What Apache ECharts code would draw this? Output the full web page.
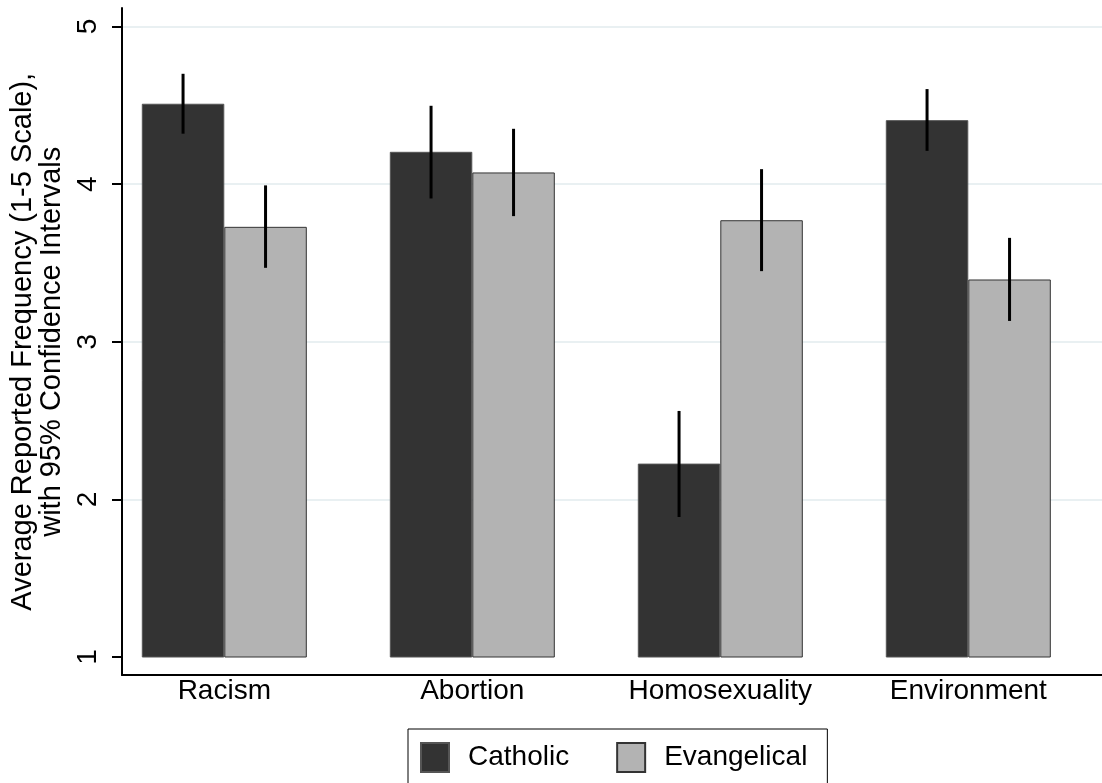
<!DOCTYPE html>
<html>
<head>
<meta charset="utf-8">
<script src="https://cdn.jsdelivr.net/npm/echarts@6/dist/echarts.min.js"></script>
<style>
html,body{margin:0;padding:0;background:#fff;}
#chart{width:1102px;height:783px;}
</style>
</head>
<body>
<div id="chart"></div>
<script>
const categories = ['Racism', 'Abortion', 'Homosexuality', 'Environment'];
const seriesNames = ['Catholic', 'Evangelical'];
const catholicMean = [4.51, 4.205, 2.227, 4.406];
const catholicLow = [4.32, 3.909, 1.888, 4.211];
const catholicHigh = [4.70, 4.497, 2.561, 4.603];
const evangelicalMean = [3.729, 4.074, 3.771, 3.395];
const evangelicalLow = [3.469, 3.797, 3.448, 3.132];
const evangelicalHigh = [3.992, 4.351, 4.095, 3.659];
const yTicks = [1, 2, 3, 4, 5];

const FONT = '"Liberation Sans", Arial, sans-serif';
const BAR_W = 82.5;

function ciData(lo, hi) {
  return categories.map((c, i) => [i, lo[i], hi[i]]);
}
function ciSeries(name, lo, hi, offset) {
  return {
    name: name,
    type: 'custom',
    xAxisIndex: 0, yAxisIndex: 0,
    z: 5,
    encode: { x: 0, y: [1, 2] },
    data: ciData(lo, hi),
    renderItem: function (params, api) {
      const a = api.coord([api.value(0), api.value(2)]);
      const b = api.coord([api.value(0), api.value(1)]);
      return {
        type: 'line',
        shape: { x1: a[0] + offset, y1: a[1], x2: b[0] + offset, y2: b[1] },
        style: { stroke: '#000', lineWidth: 3 }
      };
    }
  };
}

const chart = echarts.init(document.getElementById('chart'), null, { renderer: 'canvas' });
chart.setOption({
  backgroundColor: '#fff',
  animation: false,
  textStyle: { fontFamily: FONT },
  grid: [
    { left: 100.3, right: 9.7, top: 26.5, bottom: 126 },
    { left: 122, right: 0, top: 26.5, bottom: 126 },
    { left: 122, right: 0, top: 8, bottom: 108 }
  ],
  xAxis: [
    {
      gridIndex: 0, type: 'category', data: categories,
      axisLine: { show: false }, axisTick: { show: false },
      axisLabel: { fontSize: 28, color: '#000', margin: 20, fontFamily: FONT }
    },
    { gridIndex: 1, type: 'value', show: false },
    {
      gridIndex: 2, type: 'value', min: 0, max: 1,
      axisLine: { show: true, lineStyle: { color: '#000', width: 2 } },
      axisTick: { show: false }, axisLabel: { show: false }, splitLine: { show: false }
    }
  ],
  yAxis: [
    { gridIndex: 0, type: 'value', min: 1, max: 5, interval: 1, show: false },
    {
      gridIndex: 1, type: 'value', min: 1, max: 5, interval: 1,
      name: 'Average Reported Frequency (1-5 Scale),\nwith 95% Confidence Intervals',
      nameLocation: 'middle', nameRotate: 90, nameGap: 52,
      nameTextStyle: { fontSize: 29, color: '#000', lineHeight: 29, fontFamily: FONT },
      axisLine: { show: false },
      axisTick: { show: true, inside: false, length: 10, lineStyle: { color: '#000', width: 2 } },
      axisLabel: { rotate: 90, fontSize: 28, color: '#000', margin: 20, fontFamily: FONT },
      splitLine: { show: true, showMinLine: false, lineStyle: { color: '#e9f0f2', width: 2 } }
    },
    {
      gridIndex: 2, type: 'value', min: 0, max: 1,
      axisLine: { show: true, lineStyle: { color: '#000', width: 2 } },
      axisTick: { show: false }, axisLabel: { show: false }, splitLine: { show: false }
    }
  ],
  legend: {
    data: seriesNames,
    left: 408, top: 729,
    orient: 'horizontal',
    icon: 'rect',
    itemWidth: 28, itemHeight: 29, itemGap: 47,
    padding: [13, 20, 12, 12],
    borderColor: '#000', borderWidth: 1, borderRadius: 0,
    textStyle: { fontSize: 28, color: '#000', fontFamily: FONT, padding: [0, 0, 0, 14] }
  },
  series: [
    {
      name: seriesNames[0], type: 'bar', xAxisIndex: 0, yAxisIndex: 0,
      data: catholicMean, barWidth: BAR_W, barGap: '0%', z: 2,
      itemStyle: { color: '#333333', borderColor: '#555555', borderWidth: 1 }
    },
    {
      name: seriesNames[1], type: 'bar', xAxisIndex: 0, yAxisIndex: 0,
      data: evangelicalMean, barWidth: BAR_W, barGap: '0%', z: 2,
      itemStyle: { color: '#b3b3b3', borderColor: '#333333', borderWidth: 1 }
    },
    ciSeries('Catholic CI', catholicLow, catholicHigh, -BAR_W / 2),
    ciSeries('Evangelical CI', evangelicalLow, evangelicalHigh, BAR_W / 2)
  ]
});
</script>
</body>
</html>
